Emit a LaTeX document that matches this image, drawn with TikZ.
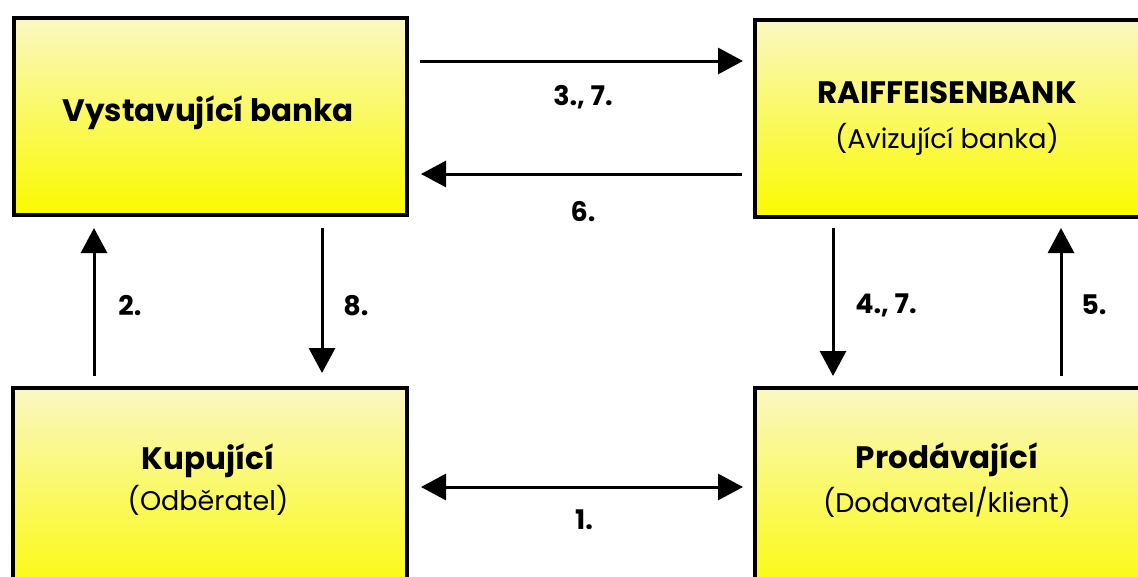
\documentclass[tikz,border=0pt]{standalone}
\usepackage{fontspec}
\setmainfont{Poppins}
\usetikzlibrary{arrows.meta}
\definecolor{ytop}{RGB}{250,248,195}
\definecolor{ybot}{RGB}{250,250,0}
\tikzset{
  box/.style={draw=black, line width=4pt, rectangle, top color=ytop, bottom color=ybot, inner sep=0pt, align=center},
  arr/.style={line width=3pt, -{Triangle[length=25pt,width=26pt]}},
  darr/.style={line width=3pt, {Triangle[length=25pt,width=26pt]}-{Triangle[length=25pt,width=26pt]}},
  lbl/.style={font=\fontsize{27}{30}\selectfont\bfseries, inner sep=0pt},
  big/.style={font=\fontsize{31}{36}\selectfont\bfseries},
  small/.style={font=\fontsize{27}{32}\selectfont}
}
\begin{document}
\begin{tikzpicture}[x=1pt,y=-1pt]
\useasboundingbox (0,0) rectangle (1138,576);
\clip (0,0) rectangle (1138,576);
% boxes
\node[box, minimum width=393pt, minimum height=196.5pt] (vb) at (210.5,116.25) {};
\node[box, minimum width=420pt, minimum height=196.5pt, anchor=north west] (rb) at (753,18) {};
\node[box, minimum width=394.5pt, minimum height=220pt, anchor=north west] (ku) at (10.5,385.5) {};
\node[box, minimum width=420pt, minimum height=220pt, anchor=north west] (pr) at (753,385.5) {};
% texts
\node[big] (t1) at (208,113) {Vystavující banka};
\node[big] (t2) at (947,93) {RAIFFEISENBANK};
\node[small] (t2b) at (947,139) {(Avizující banka)};
\node[big] (t3) at (208,461) {Kupující};
\node[small] (t3b) at (208,500) {(Odběratel)};
\node[big] (t4) at (947,460) {Prodávající};
\node[small] (t4b) at (947,502) {(Dodavatel/klient)};
% arrow end points
\coordinate (a1s) at (420,61);   \coordinate (a1e) at (743,61);
\coordinate (a2s) at (742,174);  \coordinate (a2e) at (421,174);
\coordinate (a3s) at (94,376);   \coordinate (a3e) at (94,228);
\coordinate (a4s) at (322,228);  \coordinate (a4e) at (322,373);
\coordinate (a5s) at (833,228);  \coordinate (a5e) at (833,376);
\coordinate (a6s) at (1061,376); \coordinate (a6e) at (1061,228);
\coordinate (a7s) at (421,487);  \coordinate (a7e) at (743,487);
\draw[arr] (a1s) -- (a1e);
\draw[arr] (a2s) -- (a2e);
\draw[arr] (a3s) -- (a3e);
\draw[arr] (a4s) -- (a4e);
\draw[arr] (a5s) -- (a5e);
\draw[arr] (a6s) -- (a6e);
\draw[darr] (a7s) -- (a7e);
% labels
\node[lbl] (l37) at (583,97) {3., 7.};
\node[lbl] (l6) at (583,212) {6.};
\node[lbl] (l2) at (130,306) {2.};
\node[lbl] (l8) at (356,306) {8.};
\node[lbl] (l47) at (886,305) {4., 7.};
\node[lbl] (l5) at (1094,305) {5.};
\node[lbl] (l1) at (584,520) {1.};
\end{tikzpicture}
\end{document}
